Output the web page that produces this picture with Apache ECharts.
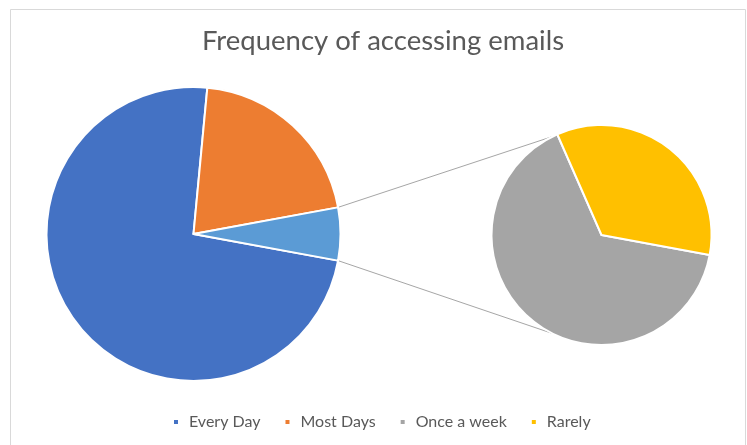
<!DOCTYPE html>
<html>
<head>
<meta charset="utf-8">
<script src="https://cdn.jsdelivr.net/npm/echarts@6/dist/echarts.min.js"></script>
<style>
  html, body { margin: 0; padding: 0; background: #ffffff; }
  #chart { width: 747px; height: 445px; }
</style>
</head>
<body>
<div id="chart"></div>
<script>
// Share of respondents (%) by how often they check their email
const mainCategories = ['Every Day', 'Most Days'];
const mainValues = [73.6, 20.6];
// Smaller answers, split out into the secondary pie
const detailCategories = ['Once a week', 'Rarely'];
const detailValues = [3.8, 2.0];

const otherLabel = 'Other';
const colors = {
  'Every Day': '#4472C4',
  'Most Days': '#ED7D31',
  'Other': '#5B9BD5',
  'Once a week': '#A5A5A5',
  'Rarely': '#FFC000'
};

const otherValue = detailValues.reduce((a, b) => a + b, 0);
const total = mainValues.reduce((a, b) => a + b, 0) + otherValue;
// Half of the angle taken by the "Other" slice; it is centred on 3 o'clock
const halfOther = otherValue / total * 180;

const mainCenter = [193.5, 234];
const mainRadius = 147;
const detailCenter = [601.5, 235];
const detailRadius = 110;
const connectorTilt = 26.5; // degrees from the vertical, on the left of the secondary pie

const mainData = mainCategories.map((c, i) => ({
  name: c, value: mainValues[i], itemStyle: { color: colors[c] }
}));
mainData.push({ name: otherLabel, value: otherValue, itemStyle: { color: colors[otherLabel] } });

const detailData = detailCategories.map((c, i) => ({
  name: c, value: detailValues[i], itemStyle: { color: colors[c] }
}));

// Connector lines from the edges of the "Other" slice to the secondary pie
const rad = d => d * Math.PI / 180;
const mainEdge = sign => [
  mainCenter[0] + mainRadius * Math.cos(rad(halfOther)),
  mainCenter[1] + sign * mainRadius * Math.sin(rad(halfOther))
];
const detailEdge = sign => [
  detailCenter[0] - detailRadius * Math.sin(rad(connectorTilt)),
  detailCenter[1] + sign * detailRadius * Math.cos(rad(connectorTilt))
];
const connectors = [-1, 1].map(sign => {
  const a = mainEdge(sign), b = detailEdge(sign);
  return {
    type: 'line', z: 0,
    shape: { x1: a[0], y1: a[1], x2: b[0], y2: b[1] },
    style: { stroke: '#A6A6A6', lineWidth: 1 }
  };
});

const chart = echarts.init(document.getElementById('chart'), null, { renderer: 'canvas' });
chart.setOption({
  animation: false,
  backgroundColor: '#ffffff',
  title: {
    text: 'Frequency of accessing emails',
    left: 378,
    textAlign: 'center',
    top: 22,
    textStyle: { fontFamily: 'Lato', fontSize: 27.5, fontWeight: 'normal', color: '#595959' }
  },
  legend: {
    data: mainCategories.concat(detailCategories),
    bottom: 10,
    left: 167,
    icon: 'rect',
    itemWidth: 6,
    itemHeight: 6,
    itemGap: 23,
    textStyle: { fontFamily: 'Lato', fontSize: 16, color: '#595959', padding: [0, 0, 0, 5] }
  },
  graphic: [
    {
      type: 'rect', z: -1,
      shape: { x: 10.5, y: 9.5, width: 735, height: 460 },
      style: { fill: 'none', stroke: '#D9D9D9', lineWidth: 1 }
    }
  ].concat(connectors),
  series: [
    {
      type: 'pie',
      center: mainCenter,
      radius: mainRadius,
      startAngle: -halfOther,
      clockwise: true,
      label: { show: false },
      labelLine: { show: false },
      emphasis: { disabled: true },
      itemStyle: { borderColor: '#ffffff', borderWidth: 2 },
      data: mainData
    },
    {
      type: 'pie',
      center: detailCenter,
      radius: detailRadius,
      startAngle: -halfOther,
      clockwise: true,
      label: { show: false },
      labelLine: { show: false },
      emphasis: { disabled: true },
      itemStyle: { borderColor: '#ffffff', borderWidth: 2 },
      data: detailData
    }
  ]
});
</script>
</body>
</html>
